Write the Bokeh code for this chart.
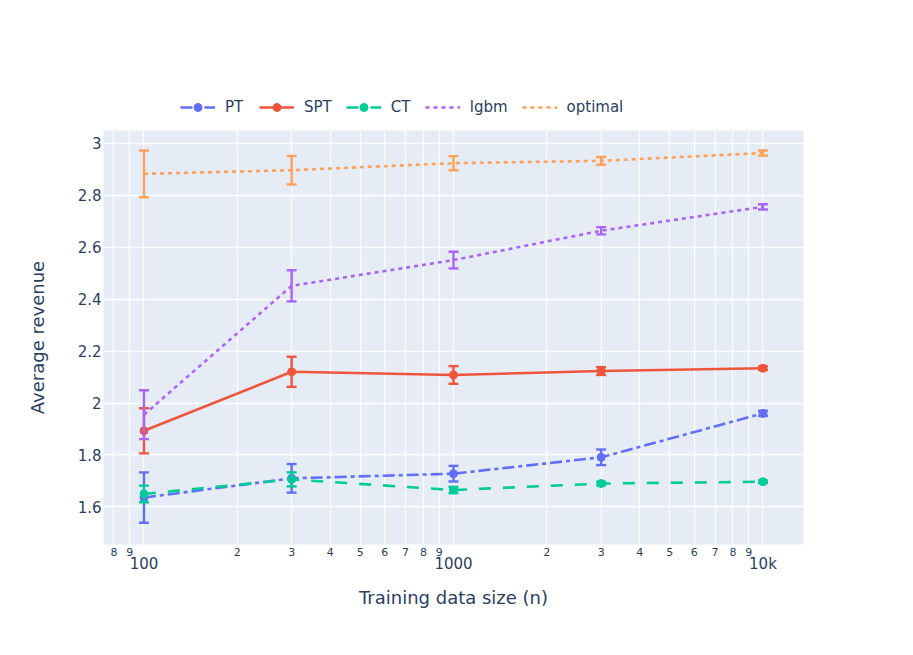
from bokeh.plotting import figure
from bokeh.layouts import column
from bokeh.models import (ColumnDataSource, Whisker, TeeHead, FixedTicker, LogAxis,
                          CustomJSTickFormatter, Range1d, Legend, LegendItem)
from bokeh.embed import file_html
from bokeh.resources import INLINE

# ---------------- data ----------------
train_size = [100, 300, 1000, 3000, 10000]

pt_mean = [1.636, 1.710, 1.728, 1.791, 1.960]
pt_err = [0.097, 0.055, 0.030, 0.030, 0.010]

spt_mean = [1.893, 2.120, 2.108, 2.123, 2.134]
spt_err = [0.087, 0.058, 0.034, 0.015, 0.007]

ct_mean = [1.650, 1.706, 1.665, 1.690, 1.697]
ct_err = [0.032, 0.027, 0.012, 0.007, 0.005]

lgbm_mean = [1.955, 2.451, 2.550, 2.663, 2.755]
lgbm_err = [0.094, 0.060, 0.032, 0.014, 0.010]

optimal_mean = [2.882, 2.896, 2.923, 2.932, 2.962]
optimal_err = [0.090, 0.055, 0.027, 0.015, 0.010]

series_names = ["PT", "SPT", "CT", "lgbm", "optimal"]

x_minor_ticks = [80, 90, 200, 300, 400, 500, 600, 700, 800, 900,
                 2000, 3000, 4000, 5000, 6000, 7000, 8000, 9000]
x_minor_labels = ["8", "9", "2", "3", "4", "5", "6", "7", "8", "9",
                  "2", "3", "4", "5", "6", "7", "8", "9"]
x_major_ticks = [100, 1000, 10000]
x_major_labels = ["100", "1000", "10k"]

y_ticks = [1.6, 1.8, 2.0, 2.2, 2.4, 2.6, 2.8, 3.0]
y_tick_labels = ["1.6", "1.8", "2", "2.2", "2.4", "2.6", "2.8", "3"]

# ---------------- styling ----------------
FONT = "DejaVu Sans"
TXT = "#2a3f5f"
colors = ["#636EFA", "#EF553B", "#00CC96", "#AB63FA", "#FFA15A"]
dashes = ["12 4 4 4", "solid", "12 12", "4 4", "4 4"]
has_marker = [True, True, True, False, False]
LW = 2.6
W = 897
TOP_H = 130

means = [pt_mean, spt_mean, ct_mean, lgbm_mean, optimal_mean]
errs = [pt_err, spt_err, ct_err, lgbm_err, optimal_err]

# ---------------- legend strip (top) ----------------
# the series are drawn here outside the visible ranges; only their legend glyphs show
pl = figure(width=W, height=TOP_H, x_range=Range1d(0, 1), y_range=Range1d(0, 1),
            output_backend="svg", toolbar_location=None,
            x_axis_location=None, y_axis_location=None,
            min_border=0, min_border_left=0, min_border_right=0,
            min_border_top=0, min_border_bottom=0)
pl.background_fill_color = "white"
pl.border_fill_color = "white"
pl.outline_line_color = None
pl.grid.visible = False

items = []
for name, m, c, d, mk in zip(series_names, means, colors, dashes, has_marker):
    rs = [pl.line(x=train_size, y=m, line_color=c, line_width=LW, line_dash=d)]
    if mk:
        rs.append(pl.scatter(x=train_size, y=m, size=8, fill_color=c, line_color=c))
    items.append(LegendItem(label=name, renderers=rs))

lg = Legend(items=items, orientation="horizontal", location=(77, 13))
lg.background_fill_alpha = 0
lg.border_line_color = None
lg.padding = 0
lg.margin = 0
lg.spacing = 14
lg.glyph_width = 35
lg.glyph_height = 20
lg.label_height = 20
lg.label_width = 20
lg.label_standoff = 10
lg.label_text_font = FONT
lg.label_text_font_size = "15px"
lg.label_text_color = TXT
pl.add_layout(lg)

# ---------------- main plot ----------------
p = figure(width=W, height=639 - TOP_H, x_axis_type="log",
           x_range=(74.0, 13520.0), y_range=(1.4554, 3.0488),
           output_backend="svg", toolbar_location=None,
           min_border_left=103, min_border_right=94,
           min_border_top=0, min_border_bottom=95)
p.background_fill_color = "#E5ECF6"
p.border_fill_color = "white"
p.outline_line_color = None

fmt_code = """
for (let i = 0; i < vals.length; i++) {
  if (Math.abs(vals[i] - tick) <= 1e-6 * Math.max(1, Math.abs(tick))) return labs[i];
}
return "";
"""

p.xgrid.ticker = FixedTicker(ticks=sorted(x_minor_ticks + x_major_ticks))
p.ygrid.ticker = FixedTicker(ticks=y_ticks)
for g in (p.xgrid[0], p.ygrid[0]):
    g.grid_line_color = "white"
    g.grid_line_width = 1.3

xa = p.xaxis[0]
xa.ticker = FixedTicker(ticks=x_minor_ticks)
xa.formatter = CustomJSTickFormatter(args=dict(vals=x_minor_ticks, labs=x_minor_labels), code=fmt_code)
xa.major_label_text_font_size = "11px"
xa.major_label_standoff = 3

xb = LogAxis(ticker=FixedTicker(ticks=x_major_ticks),
             formatter=CustomJSTickFormatter(args=dict(vals=x_major_ticks, labs=x_major_labels), code=fmt_code))
xb.major_label_text_font_size = "15px"
xb.major_label_standoff = -4
xb.axis_label = "Training data size (n)"
xb.axis_label_standoff = 11
p.add_layout(xb, "below")

ya = p.yaxis[0]
ya.ticker = FixedTicker(ticks=y_ticks)
ya.formatter = CustomJSTickFormatter(args=dict(vals=y_ticks, labs=y_tick_labels), code=fmt_code)
ya.major_label_text_font_size = "15px"
ya.major_label_standoff = 2
ya.axis_label = "Average revenue"
ya.axis_label_standoff = 27

for ax in (xa, xb, ya):
    ax.axis_line_color = None
    ax.major_tick_line_color = None
    ax.minor_tick_line_color = None
    ax.major_tick_out = 0
    ax.major_label_text_color = TXT
    ax.major_label_text_font = FONT
    ax.axis_label_text_color = TXT
    ax.axis_label_text_font = FONT
    ax.axis_label_text_font_size = "18px"
    ax.axis_label_text_font_style = "normal"

for name, m, e, c, d, mk in zip(series_names, means, errs, colors, dashes, has_marker):
    src = ColumnDataSource(dict(x=train_size, y=m,
                                upper=[a + b for a, b in zip(m, e)],
                                lower=[a - b for a, b in zip(m, e)]))
    w = Whisker(base="x", upper="upper", lower="lower", source=src, dimension="height",
                line_color=c, line_width=2.4, level="glyph",
                upper_head=TeeHead(size=10, line_color=c, line_width=2.4),
                lower_head=TeeHead(size=10, line_color=c, line_width=2.4))
    p.add_layout(w)
    p.line("x", "y", source=src, line_color=c, line_width=LW, line_dash=d)
    if mk:
        p.scatter("x", "y", source=src, size=8, fill_color=c, line_color=c)

layout = column(pl, p, spacing=0)
open("out.html", "w").write(file_html(layout, INLINE))
